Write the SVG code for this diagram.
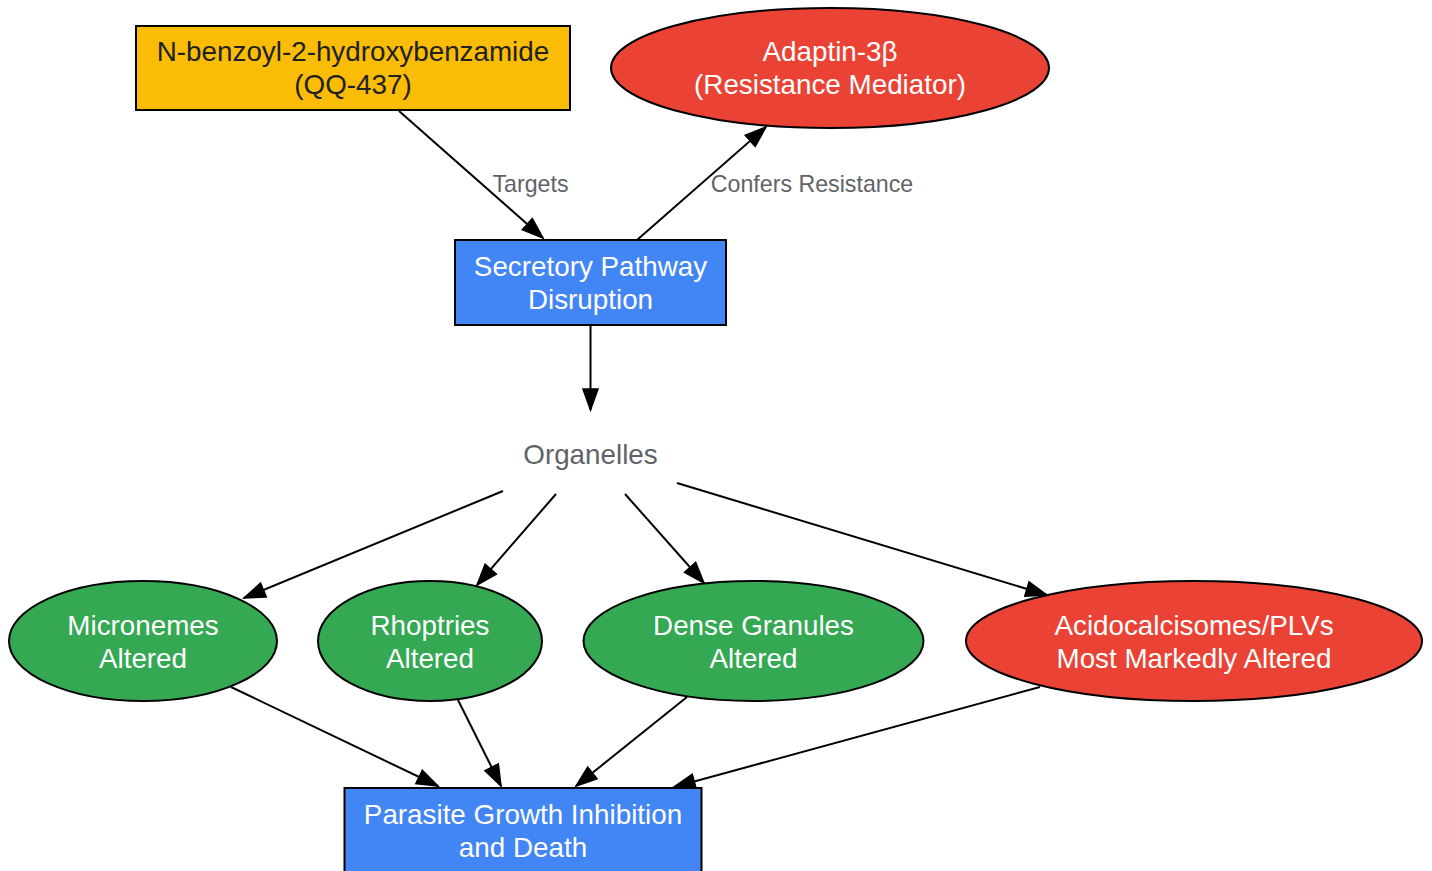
<svg xmlns="http://www.w3.org/2000/svg" width="1432" height="871" viewBox="0 0 1432 871">
<style>
  .node { stroke: #000; stroke-width: 2; }
  .yellow { fill: #FBBC05; }
  .red { fill: #EA4335; }
  .green { fill: #34A853; }
  .blue { fill: #4285F4; }
  text { font-family: "Liberation Sans", Arial, sans-serif; text-anchor: middle; }
  .lbl { font-size: 27.8px; fill: #FFFFFF; }
  .dark { fill: #202124; }
  .gray { fill: #5F6368; }
  .elbl { font-size: 23.2px; fill: #5F6368; }
  .edge { stroke: #000; stroke-width: 2; fill: none; marker-end: url(#arr); }
</style>
<defs>
  <marker id="arr" markerUnits="userSpaceOnUse" markerWidth="24" markerHeight="18" refX="22" refY="9" orient="auto">
    <path d="M1,1.5 L22,9 L1,16.5 Z" fill="#000" stroke="#000" stroke-width="1.5"/>
  </marker>
</defs>
<rect width="1432" height="871" fill="#FFFFFF"/>

<g id="edges">
  <line class="edge" x1="399" y1="111" x2="543" y2="238"/>
  <line class="edge" x1="637" y1="240" x2="766" y2="127"/>
  <line class="edge" x1="590.5" y1="325" x2="590.5" y2="410"/>
  <line class="edge" x1="503" y1="491" x2="244" y2="598"/>
  <line class="edge" x1="556" y1="494" x2="477" y2="585"/>
  <line class="edge" x1="625" y1="494" x2="704" y2="583"/>
  <line class="edge" x1="677" y1="483" x2="1047" y2="595"/>
  <line class="edge" x1="231" y1="687" x2="438" y2="786"/>
  <line class="edge" x1="458" y1="700" x2="501" y2="786"/>
  <line class="edge" x1="687" y1="697" x2="576" y2="786"/>
  <line class="edge" x1="1040" y1="687" x2="674" y2="787"/>
  <text class="elbl" x="530.5" y="192">Targets</text>
  <text class="elbl" x="812" y="192">Confers Resistance</text>
</g>

<g id="qq437">
  <rect class="node yellow" x="136" y="26" width="434" height="84"/>
  <text class="lbl dark" x="353" y="61">N-benzoyl-2-hydroxybenzamide</text>
  <text class="lbl dark" x="353" y="94">(QQ-437)</text>
</g>

<g id="adaptin">
  <ellipse class="node red" cx="830" cy="68" rx="219" ry="60"/>
  <text class="lbl" x="830" y="61">Adaptin-3β</text>
  <text class="lbl" x="830" y="94">(Resistance Mediator)</text>
</g>

<g id="secretory">
  <rect class="node blue" x="455" y="240" width="271" height="85"/>
  <text class="lbl" x="590.5" y="276">Secretory Pathway</text>
  <text class="lbl" x="590.5" y="309">Disruption</text>
</g>

<g id="organelles">
  <text class="lbl gray" x="590.5" y="464">Organelles</text>
</g>

<g id="micronemes">
  <ellipse class="node green" cx="143" cy="641" rx="134" ry="60"/>
  <text class="lbl" x="143" y="635">Micronemes</text>
  <text class="lbl" x="143" y="668">Altered</text>
</g>

<g id="rhoptries">
  <ellipse class="node green" cx="430" cy="641" rx="112" ry="60"/>
  <text class="lbl" x="430" y="635">Rhoptries</text>
  <text class="lbl" x="430" y="668">Altered</text>
</g>

<g id="dense">
  <ellipse class="node green" cx="753.5" cy="641" rx="170" ry="60"/>
  <text class="lbl" x="753.5" y="635">Dense Granules</text>
  <text class="lbl" x="753.5" y="668">Altered</text>
</g>

<g id="acido">
  <ellipse class="node red" cx="1194" cy="641" rx="228" ry="60"/>
  <text class="lbl" x="1194" y="635">Acidocalcisomes/PLVs</text>
  <text class="lbl" x="1194" y="668">Most Markedly Altered</text>
</g>

<g id="parasite">
  <rect class="node blue" x="344.5" y="788" width="357" height="110"/>
  <text class="lbl" x="523" y="824">Parasite Growth Inhibition</text>
  <text class="lbl" x="523" y="857">and Death</text>
</g>
</svg>
